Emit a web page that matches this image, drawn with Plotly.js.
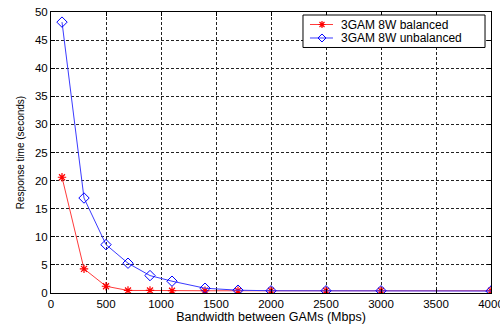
<!DOCTYPE html>
<html><head><meta charset="utf-8">
<script src="https://cdn.plot.ly/plotly-3.0.1.min.js"></script>
<style>html,body{margin:0;padding:0;background:#fff}#c{width:500px;height:324px}</style>
</head><body><div id="c"></div>
<script>
const bandwidth = [100, 300, 500, 700, 900, 1100, 1400, 1700, 2000, 2500, 3000, 4000];
const balanced = [20.6, 4.3, 1.2, 0.45, 0.45, 0.4, 0.4, 0.4, 0.4, 0.4, 0.4, 0.4];
const unbalanced = [48.2, 16.9, 8.6, 5.3, 3.1, 2.1, 0.85, 0.5, 0.4, 0.4, 0.4, 0.35];
const seriesNames = ["3GAM 8W balanced", "3GAM 8W unbalanced"];
const xTicks = [0, 500, 1000, 1500, 2000, 2500, 3000, 3500, 4000];
const yTicks = [0, 5, 10, 15, 20, 25, 30, 35, 40, 45, 50];

const fam = "Liberation Sans, Arial, sans-serif";
const tickFont = {family: fam, size: 11.5, color: "#000"};
const redLine = "#ff3b3b", redMark = "#ff0000", blueLine = "#3b3bff", blueMark = "#0000ff";
const traces = [
  {x: bandwidth, y: balanced, name: seriesNames[0], mode: "lines+markers", type: "scatter",
   line: {color: redLine, width: 1}, marker: {symbol: "asterisk-open", size: 7, color: redMark, line: {color: redMark, width: 1.2}}},
  {x: bandwidth, y: unbalanced, name: seriesNames[1], mode: "lines+markers", type: "scatter",
   line: {color: blueLine, width: 1}, marker: {symbol: "diamond-open", size: 8, color: blueMark, line: {color: blueMark, width: 1}}}
];
const axisCommon = {showline: true, mirror: "ticks", linecolor: "#000", linewidth: 1, ticks: "inside", ticklen: 4, tickcolor: "#000",
  showgrid: true, gridcolor: "#222", griddash: "3px,2px", gridwidth: 1, zeroline: false, tickfont: tickFont};

// manual legend (MATLAB-style compact box), paper coordinates
const L = {x0: 0.5727, x1: 0.9864, y0: 0.8737, y1: 0.9893, lx0: 0.5886, lx1: 0.6409, mx: 0.6159, tx: 0.6568, rows: [0.9555, 0.9075]};
const legendColors = [[redLine, redMark], [blueLine, blueMark]];
const markerPaths = [
  "M -3.5 0 L 3.5 0 M 0 -3.5 L 0 3.5 M -2.5 -2.5 L 2.5 2.5 M -2.5 2.5 L 2.5 -2.5",
  "M -4 0 L 0 4 L 4 0 L 0 -4 Z"
];
const shapes = [{type: "rect", xref: "paper", yref: "paper", x0: L.x0, x1: L.x1, y0: L.y0, y1: L.y1,
  line: {color: "#000", width: 1}, fillcolor: "#fff", layer: "above"}];
const annotations = [];
seriesNames.forEach((nm, i) => {
  const yy = L.rows[i];
  shapes.push({type: "line", xref: "paper", yref: "paper", x0: L.lx0, x1: L.lx1, y0: yy, y1: yy,
    line: {color: legendColors[i][0], width: 1}, layer: "above"});
  shapes.push({type: "path", xref: "paper", yref: "paper", xsizemode: "pixel", ysizemode: "pixel",
    xanchor: L.mx, yanchor: yy, path: markerPaths[i], fillcolor: "rgba(0,0,0,0)",
    line: {color: legendColors[i][1], width: i === 0 ? 1.2 : 1}, layer: "above"});
  annotations.push({xref: "paper", yref: "paper", x: L.tx, y: yy, xanchor: "left", yanchor: "middle", borderpad: 0,
    text: nm, showarrow: false, font: {family: fam, size: 12, color: "#000"}});
});

const layout = {
  width: 500, height: 324, paper_bgcolor: "#fff", plot_bgcolor: "#fff",
  margin: {l: 51, r: 9, t: 12, b: 31},
  showlegend: false, shapes: shapes, annotations: annotations,
  xaxis: Object.assign({}, axisCommon, {range: [0, 4000], tickvals: xTicks, ticktext: xTicks.map(String), ticklabeloverflow: "allow",
    title: {text: "Bandwidth between GAMs (Mbps)", font: {family: fam, size: 12.5, color: "#000"}, standoff: 3}}),
  yaxis: Object.assign({}, axisCommon, {range: [0, 50], tickvals: yTicks, ticktext: yTicks.map(String),
    title: {text: "Response time (seconds)", font: {family: fam, size: 10, color: "#000"}, standoff: 8}})
};
Plotly.newPlot("c", traces, layout, {staticPlot: true, displayModeBar: false});
</script></body></html>
